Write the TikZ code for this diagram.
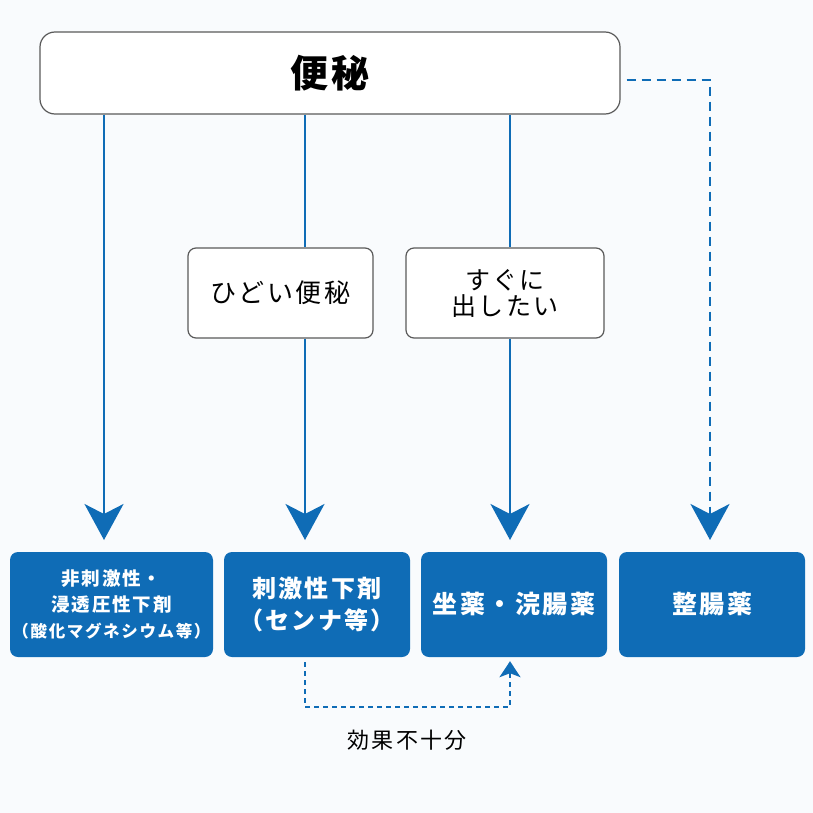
\documentclass[tikz,border=0pt]{standalone}
\usepackage{fontspec}
\setmainfont{Noto Sans CJK JP}
\newfontfamily\cjk[LetterSpace=10]{Noto Sans CJK JP}
\usetikzlibrary{arrows.meta,positioning,calc}
\definecolor{bg}{HTML}{F9FBFD}
\definecolor{med}{HTML}{0F6CB6}
\definecolor{rim}{HTML}{5A5A5A}

\begin{document}
\begin{tikzpicture}[x=1pt,y=-1pt]
      \tikzstyle{top}=[draw=rim,line width=1.2pt,fill=white,rounded corners=15pt,minimum width=580pt,minimum height=82pt,inner sep=0pt]
      \tikzstyle{cond}=[draw=rim,line width=1.2pt,fill=white,rounded corners=8pt,minimum height=90pt,inner sep=0pt,align=center]
      \tikzstyle{drug}=[fill=med,text=white,rounded corners=8pt,minimum width=186pt,minimum height=105pt,inner sep=0pt,align=center]
      \tikzstyle{arr}=[med,line width=2pt,-{Stealth[length=36pt,width=39pt,inset=10pt]}]
      \tikzstyle{ln}=[med,line width=2pt]
      \tikzstyle{dotline}=[med,line width=2.5pt,dash pattern=on 9pt off 6pt]
      \fill[bg] (0,0) rectangle (813,813);
      \useasboundingbox (0,0) rectangle (813,813);
      \node[top,font=\cjk\fontsize{38}{42}\selectfont\bfseries] (ben) at (330,73) {便秘};
      \node[cond,minimum width=185pt,font=\cjk\fontsize{26}{30}\selectfont] (hidoi) at (280.5,293) {ひどい便秘};
      \node[cond,minimum width=198pt,font=\cjk\fontsize{25}{26}\selectfont] (sugu) at (505,293) {すぐに\\出したい};
      \node[drug,minimum width=203pt,font=\cjk\fontsize{18.5}{26}\selectfont\bfseries] (hisi) at (111.5,604.5)
        {非刺激性・\\浸透圧性下剤\\{\fontsize{16.5}{26}\selectfont （酸化マグネシウム等）}};
      \node[drug,font=\cjk\fontsize{24}{32}\selectfont\bfseries] (sigeki) at (317,604.5) {刺激性下剤\\（センナ等）};
      \node[drug,font=\cjk\fontsize{25}{28}\selectfont\bfseries] (zayaku) at (514,604.5) {坐薬・浣腸薬};
      \node[drug,font=\cjk\fontsize{25}{28}\selectfont\bfseries] (seicho) at (712,604.5) {整腸薬};
      \node[font=\cjk\fontsize{22}{26}\selectfont] (lack) at (407,740) {効果不十分};
      % arrow tips above the boxes
      \coordinate (t1) at (104,540);
      \coordinate (t2) at (305,540);
      \coordinate (t3) at (510,540);
      \coordinate (t4) at (710,540);
      \draw[arr] (ben.south -| t1) -- (t1);
      \draw[ln] (ben.south -| t2) -- (hidoi.north -| t2);
      \draw[arr] (hidoi.south -| t2) -- (t2);
      \draw[ln] (ben.south -| t3) -- (sugu.north -| t3);
      \draw[arr] (sugu.south -| t3) -- (t3);
      % dotted route to the probiotics
      \draw[dotline,-{Stealth[length=36pt,width=39pt,inset=10pt]}] ([xshift=6pt,yshift=-7pt]ben.east) -| (t4);
      % fallback when stimulant fails
      \draw[med,line width=2pt,dash pattern=on 5pt off 4pt,-{Stealth[length=16pt,width=21pt,inset=4pt]}]
        ([yshift=-5pt]sigeki.south -| t2) -- (305,707) -| ([yshift=-4pt]zayaku.south -| t3);
    \end{tikzpicture}
\end{document}
